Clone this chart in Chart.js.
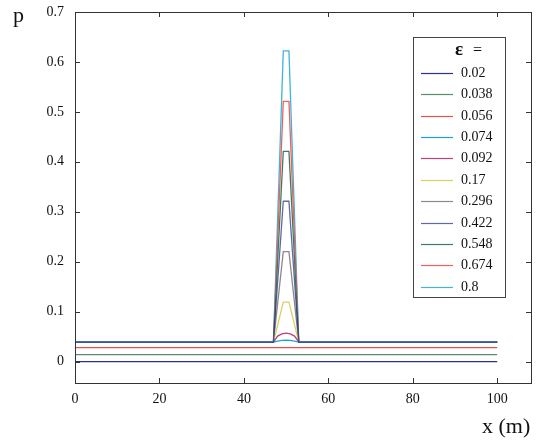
<!DOCTYPE html>
<html>
<head>
<meta charset="utf-8">
<script src="https://cdn.jsdelivr.net/npm/chart.js@4/dist/chart.umd.min.js"></script>
<style>
  body { margin: 0; background: #fff; }
  canvas { display: block; }
</style>
</head>
<body>
<canvas id="chart" width="554" height="441"></canvas>
<script>
// data
const epsLabels = ["0.02", "0.038", "0.056", "0.074", "0.092", "0.17", "0.296", "0.422", "0.548", "0.674", "0.8"];
const lineColors = ["#2e3192", "#5b8c6e", "#e85050", "#1aa3d9", "#c0407a", "#d9d064", "#8a8a8a", "rgba(40,44,130,0.72)", "#3e7d5c", "#f06060", "#40b4dc"];

const xFlat = [0, 40, 60, 100];
const xArc = [0, 40, 47, 48, 49, 50, 51, 52, 53, 60, 100];
const xSpike = [0, 40, 47, 49.33, 50.67, 53, 60, 100];

const p002 = [0, 0, 0, 0];
const p0038 = [0.014, 0.014, 0.014, 0.014];
const p0056 = [0.028, 0.028, 0.028, 0.028];
const p0074 = [0.039, 0.039, 0.039, 0.041, 0.0425, 0.043, 0.0425, 0.041, 0.039, 0.039, 0.039];
const p0092 = [0.039, 0.039, 0.039, 0.051, 0.0555, 0.057, 0.0555, 0.051, 0.039, 0.039, 0.039];
const p017 = [0.039, 0.039, 0.039, 0.119, 0.119, 0.039, 0.039, 0.039];
const p0296 = [0.039, 0.039, 0.039, 0.22, 0.22, 0.039, 0.039, 0.039];
const p0422 = [0.039, 0.039, 0.039, 0.321, 0.321, 0.039, 0.039, 0.039];
const p0548 = [0.039, 0.039, 0.039, 0.421, 0.421, 0.039, 0.039, 0.039];
const p0674 = [0.039, 0.039, 0.039, 0.521, 0.521, 0.039, 0.039, 0.039];
const p08 = [0.039, 0.039, 0.039, 0.622, 0.622, 0.039, 0.039, 0.039];

const seriesX = [xFlat, xFlat, xFlat, xArc, xArc, xSpike, xSpike, xSpike, xSpike, xSpike, xSpike];
const seriesY = [p002, p0038, p0056, p0074, p0092, p017, p0296, p0422, p0548, p0674, p08];

const xTicks = [0, 20, 40, 60, 80, 100];
const yTicks = [0, 0.1, 0.2, 0.3, 0.4, 0.5, 0.6, 0.7];

const serif = "'Liberation Serif', 'DejaVu Serif', serif";

const datasets = epsLabels.map((lab, i) => ({
  label: lab,
  data: seriesX[i].map((x, j) => ({ x: x, y: seriesY[i][j] })),
  borderColor: lineColors[i],
  borderWidth: 1.3,
  pointRadius: 0,
  tension: 0,
  fill: false,
  order: lab === "0.422" ? -1 : 0,
}));

// box, inward ticks, legend and axis names
const framePlugin = {
  id: "frame",
  afterDraw(chart) {
    const ctx = chart.ctx;
    const a = chart.chartArea;
    const xs = chart.scales.x;
    const ys = chart.scales.y;
    ctx.save();
    ctx.strokeStyle = "#333";
    ctx.lineWidth = 1;
    ctx.strokeRect(Math.round(a.left) + 0.5, Math.round(a.top) + 0.5, Math.round(a.right - a.left), Math.round(a.bottom - a.top));
    ctx.beginPath();
    xTicks.forEach((v) => {
      const px = Math.round(xs.getPixelForValue(v)) + 0.5;
      ctx.moveTo(px, a.bottom);
      ctx.lineTo(px, a.bottom - 5);
      ctx.moveTo(px, a.top);
      ctx.lineTo(px, a.top + 5);
    });
    yTicks.forEach((v) => {
      const py = Math.round(ys.getPixelForValue(v)) + 0.5;
      ctx.moveTo(a.left, py);
      ctx.lineTo(a.left + 5, py);
      ctx.moveTo(a.right, py);
      ctx.lineTo(a.right - 5, py);
    });
    ctx.stroke();

    // legend
    const lx = 413.5, ly = 37.5, lw = 92, lh = 260;
    ctx.fillStyle = "#fff";
    ctx.fillRect(lx, ly, lw, lh);
    ctx.strokeStyle = "#444";
    ctx.strokeRect(lx, ly, lw, lh);
    ctx.fillStyle = "#111";
    ctx.textBaseline = "middle";
    ctx.textAlign = "left";
    ctx.font = "bold 19px " + serif;
    ctx.fillText("ε", 455, 50);
    ctx.font = "16px " + serif;
    ctx.fillText("=", 473, 51);
    ctx.font = "14px " + serif;
    chart.data.datasets.forEach((ds, i) => {
      const y = Math.round(72.7 + i * 21.4) + 0.5;
      ctx.strokeStyle = ds.borderColor;
      ctx.lineWidth = 1.2;
      ctx.beginPath();
      ctx.moveTo(421, y);
      ctx.lineTo(453, y);
      ctx.stroke();
      ctx.fillText(ds.label, 461, y);
    });

    // axis names
    ctx.font = "22px " + serif;
    ctx.textBaseline = "alphabetic";
    ctx.fillText("p", 13, 22);
    ctx.fillText("x (m)", 482, 433);
    ctx.restore();
  },
};

new Chart(document.getElementById("chart"), {
  type: "line",
  data: { datasets: datasets },
  options: {
    responsive: false,
    animation: false,
    layout: { padding: { left: 0, top: 12, right: 23, bottom: 0 } },
    plugins: { legend: { display: false }, tooltip: { enabled: false } },
    scales: {
      x: {
        type: "linear",
        min: 0,
        max: 108,
        afterBuildTicks: (s) => { s.ticks = xTicks.map((v) => ({ value: v })); },
        afterFit: (s) => { s.height = 58; s.paddingLeft = 0; s.paddingRight = 0; },
        grid: { display: false, drawTicks: false },
        border: { display: false },
        ticks: { color: "#111", font: { family: serif, size: 14 }, padding: 8, maxRotation: 0 },
      },
      y: {
        type: "linear",
        min: -0.043,
        max: 0.7,
        afterBuildTicks: (s) => { s.ticks = yTicks.map((v) => ({ value: v })); },
        afterFit: (s) => { s.width = 75; s.paddingTop = 0; s.paddingBottom = 0; },
        grid: { display: false, drawTicks: false },
        border: { display: false },
        ticks: {
          color: "#111",
          font: { family: serif, size: 14 },
          padding: 11,
          callback: (v) => (v === 0 ? "0" : v.toFixed(1)),
        },
      },
    },
  },
  plugins: [framePlugin],
});
</script>
</body>
</html>
